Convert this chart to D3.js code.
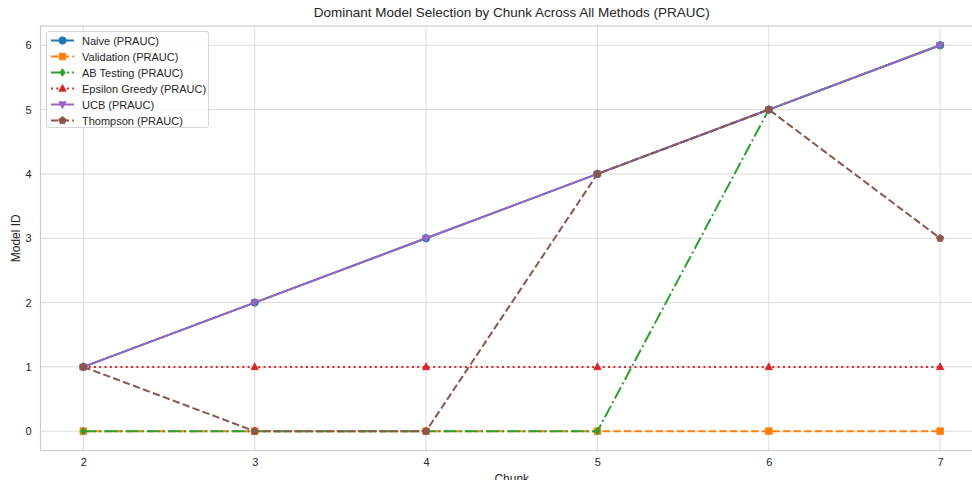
<!DOCTYPE html>
<html><head><meta charset="utf-8">
<script src="https://cdn.jsdelivr.net/npm/d3@7"></script>
<style>body{margin:0;background:#fff}svg{display:block;font-family:"Liberation Sans",Arial,sans-serif}</style>
</head><body><svg id="c" width="972" height="480"></svg>
<script>
const chunks = [2,3,4,5,6,7];
const naive = [1,2,3,4,5,6];
const validation = [0,0,0,0,0,0];
const abTesting = [0,0,0,0,5,6];
const epsilonGreedy = [1,1,1,1,1,1];
const ucb = [1,2,3,4,5,6];
const thompson = [1,0,0,4,5,3];
const yTicks = [0,1,2,3,4,5,6];
const seriesNames = ["Naive (PRAUC)","Validation (PRAUC)","AB Testing (PRAUC)","Epsilon Greedy (PRAUC)","UCB (PRAUC)","Thompson (PRAUC)"];

const series = [
 {name:seriesNames[0], values:naive, color:"#1f77b4", dash:null, marker:"circle"},
 {name:seriesNames[1], values:validation, color:"#ff7f0e", dash:"7.4,3.2", marker:"square"},
 {name:seriesNames[2], values:abTesting, color:"#2ca02c", dash:"12.8,3.2,2,3.2", marker:"diamond"},
 {name:seriesNames[3], values:epsilonGreedy, color:"#d62728", dash:"2,3.3", marker:"triup"},
 {name:seriesNames[4], values:ucb, color:"#9467bd", dash:null, marker:"tridown"},
 {name:seriesNames[5], values:thompson, color:"#8c564b", dash:"7.4,3.2", marker:"pentagon"}
];

const svg = d3.select("#c");
const L=40.5, R=983, T=26, B=450.5;
const x = d3.scaleLinear().domain([1.75,7.25]).range([L,R]);
const y = d3.scaleLinear().domain([-0.3,6.3]).range([B,T]);

svg.append("defs").append("clipPath").attr("id","clip").append("rect").attr("x",L).attr("y",T).attr("width",R-L).attr("height",B-T);

const g = svg.append("g");
g.selectAll(".gx").data(chunks).join("line").attr("x1",d=>x(d)).attr("x2",d=>x(d)).attr("y1",T).attr("y2",B).attr("stroke","#dcdcdc").attr("stroke-width",1);
g.selectAll(".gy").data(yTicks).join("line").attr("x1",L).attr("x2",R).attr("y1",d=>y(d)).attr("y2",d=>y(d)).attr("stroke","#dcdcdc").attr("stroke-width",1);
svg.append("rect").attr("x",L).attr("y",T).attr("width",R-L).attr("height",B-T).attr("fill","none").attr("stroke","#cccccc").attr("stroke-width",1.2);

const fmt = d3.format("d");
const xAxis = svg.append("g").attr("transform",`translate(0,${B})`).call(d3.axisBottom(x).tickValues(chunks).tickFormat(fmt).tickSize(0).tickPadding(8));
const yAxis = svg.append("g").attr("transform",`translate(${L},0)`).call(d3.axisLeft(y).tickValues(yTicks).tickFormat(fmt).tickSize(0).tickPadding(9));
[xAxis,yAxis].forEach(a=>{a.select(".domain").remove();a.selectAll("text").attr("font-size",11).attr("fill","#262626").attr("font-family","Liberation Sans, Arial, sans-serif");});

svg.append("text").attr("x",(L+R)/2).attr("y",17).attr("text-anchor","middle").attr("font-size",13.5).attr("fill","#262626").text("Dominant Model Selection by Chunk Across All Methods (PRAUC)");
svg.append("text").attr("x",(L+R)/2).attr("y",483).attr("text-anchor","middle").attr("font-size",12).attr("fill","#262626").text("Chunk");
svg.append("text").attr("transform",`translate(20,${(T+B)/2}) rotate(-90)`).attr("text-anchor","middle").attr("font-size",12).attr("fill","#262626").text("Model ID");

function markerPath(type, s){
  const r=s;
  switch(type){
    case "circle": return d3.symbol(d3.symbolCircle, Math.PI*r*r)();
    case "square": return `M${-r*0.9},${-r*0.9}H${r*0.9}V${r*0.9}H${-r*0.9}Z`;
    case "diamond": return `M0,${-r*1.05}L${r*0.75},0L0,${r*1.05}L${-r*0.75},0Z`;
    case "triup": return `M0,${-r*1.1}L${r},${r*0.75}L${-r},${r*0.75}Z`;
    case "tridown": return `M0,${r*1.1}L${r},${-r*0.75}L${-r},${-r*0.75}Z`;
    case "pentagon": {
      const pts=d3.range(5).map(i=>{const a=-Math.PI/2+i*2*Math.PI/5;return [r*1.05*Math.cos(a),r*1.05*Math.sin(a)];});
      return "M"+pts.map(p=>p.join(",")).join("L")+"Z";
    }
  }
}

const plot = svg.append("g").attr("clip-path","url(#clip)");
const line = d3.line().x((d,i)=>x(chunks[i])).y(d=>y(d));
series.forEach(s=>{
  const gs = plot.append("g");
  gs.append("path").attr("d",line(s.values)).attr("fill","none").attr("stroke",s.color).attr("stroke-width",2).attr("stroke-dasharray",s.dash).attr("stroke-linecap",s.dash? "butt":"round");
  gs.selectAll("path.m").data(s.values).join("path").attr("class","m")
    .attr("transform",(d,i)=>`translate(${x(chunks[i])},${y(d)})`)
    .attr("d",markerPath(s.marker,3.7)).attr("fill",s.color).attr("stroke",s.color).attr("stroke-width",0.8);
});

const lg = svg.append("g");
lg.append("rect").attr("x",46.5).attr("y",31.5).attr("width",162).attr("height",96).attr("rx",2.5).attr("fill","#fff").attr("fill-opacity",0.8).attr("stroke","#d6d6d6").attr("stroke-width",1);
series.forEach((s,i)=>{
  const yy = 40.5 + i*16;
  lg.append("line").attr("x1",51).attr("x2",74).attr("y1",yy).attr("y2",yy).attr("stroke",s.color).attr("stroke-width",2).attr("stroke-dasharray",s.dash);
  lg.append("path").attr("transform",`translate(62.5,${yy})`).attr("d",markerPath(s.marker,3.7)).attr("fill",s.color).attr("stroke",s.color).attr("stroke-width",0.8);
  lg.append("text").attr("x",82).attr("y",yy+4).attr("font-size",11).attr("fill","#262626").text(s.name);
});
</script></body></html>
